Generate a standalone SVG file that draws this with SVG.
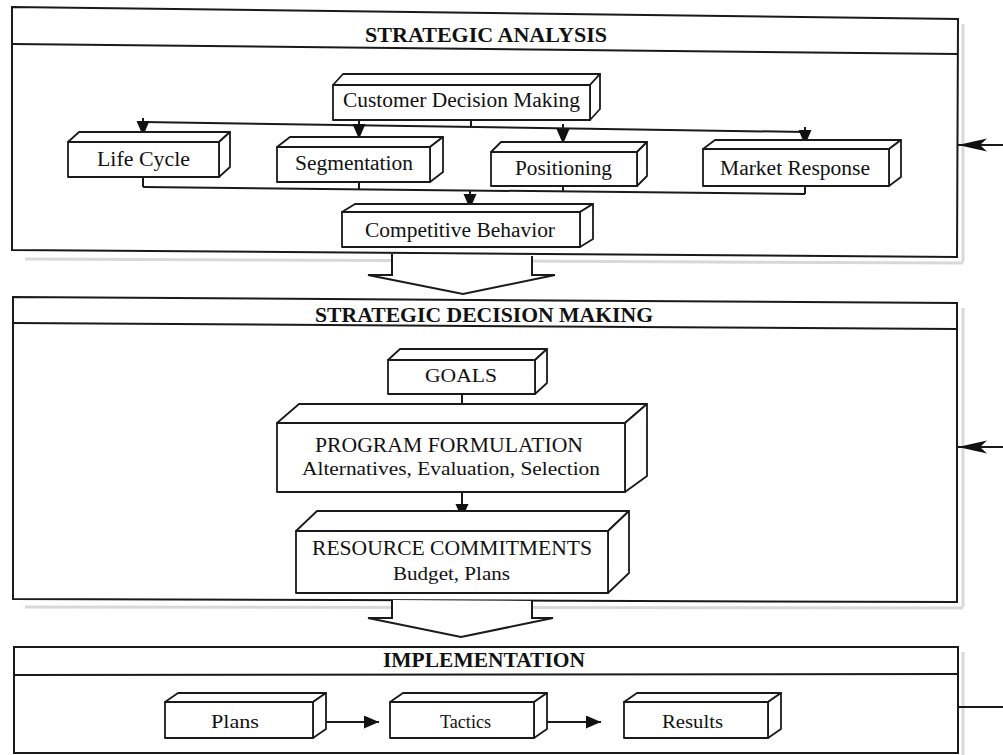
<svg xmlns="http://www.w3.org/2000/svg" width="1003" height="755" viewBox="0 0 1003 755">
<defs>
<marker id="ah" markerUnits="userSpaceOnUse" markerWidth="16" markerHeight="14" refX="15" refY="6.5" orient="auto"><path d="M0,0 L15,6.5 L0,13 z" fill="#111"/></marker>
<marker id="fb" markerUnits="userSpaceOnUse" markerWidth="30" markerHeight="14" refX="29" refY="6.5" orient="auto"><path d="M0,0 L29,6.5 L0,13 L7,6.5 z" fill="#111"/></marker>
<style>
.panel{fill:#fff;stroke:#1a1a1a;stroke-width:2}
.div{fill:none;stroke:#1a1a1a;stroke-width:2}
.shadow{fill:none;stroke:#c8c8c8;stroke-width:3;opacity:0.7}
.box rect,.box polygon{fill:#fff;stroke:#1a1a1a;stroke-width:1.8;stroke-linejoin:round}
.title{font-family:"Liberation Serif","Times New Roman",serif;font-weight:bold;font-size:20px;fill:#111}
.lbl{font-family:"Liberation Serif","Times New Roman",serif;font-size:20px;fill:#111}
.sub{font-family:"Liberation Serif","Times New Roman",serif;font-size:18px;fill:#111}
.con{fill:none;stroke:#1a1a1a;stroke-width:2}
.big{fill:#fff;stroke:#1a1a1a;stroke-width:2;stroke-linejoin:miter}
</style>
</defs>
<rect width="1003" height="755" fill="#fff"/>

<g id="shadows">
<line class="shadow" x1="963" y1="24" x2="963" y2="262"/>
<line class="shadow" x1="25" y1="259" x2="963" y2="263"/>
<line class="shadow" x1="963" y1="308" x2="963" y2="607"/>
<line class="shadow" x1="25" y1="607" x2="963" y2="608"/>
<line class="shadow" x1="963" y1="652" x2="963" y2="755"/>
</g>

<g id="panel-analysis">
<polygon class="panel" points="12,7 958,19 957,257 12,250"/>
<line class="div" x1="12" y1="44" x2="958" y2="54"/>
<text class="title" x="365" y="42" textLength="242" lengthAdjust="spacingAndGlyphs">STRATEGIC ANALYSIS</text>
</g>

<g id="panel-decision">
<polygon class="panel" points="13,297 957,303 957,602 13,599"/>
<line class="div" x1="13" y1="323" x2="957" y2="329"/>
<text class="title" x="315" y="322" textLength="338" lengthAdjust="spacingAndGlyphs">STRATEGIC DECISION MAKING</text>
</g>

<g id="panel-implementation">
<polygon class="panel" points="14,647 958,647 958,753 14,753"/>
<line class="div" x1="14" y1="675" x2="958" y2="674"/>
<text class="title" x="383" y="667" textLength="202" lengthAdjust="spacingAndGlyphs">IMPLEMENTATION</text>
</g>

<g id="flow-arrows">
<path class="big" d="M392,254 L392,275 L368,275 L463,294 L555,275 L532,275 L532,256"/>
<path class="big" d="M392,600 L392,618 L368,618 L461,637 L553,618 L532,618 L532,601"/>
</g>

<g id="connectors">
<line class="con" x1="471" y1="120" x2="471" y2="127"/>
<line class="con" x1="143" y1="122" x2="805" y2="132"/>
<line class="con" x1="143" y1="118" x2="143" y2="136" marker-end="url(#ah)"/>
<line class="con" x1="359" y1="121" x2="359" y2="139" marker-end="url(#ah)"/>
<line class="con" x1="563" y1="124" x2="563" y2="144" marker-end="url(#ah)"/>
<line class="con" x1="805" y1="127" x2="805" y2="145" marker-end="url(#ah)"/>
<line class="con" x1="143" y1="177" x2="143" y2="187"/>
<line class="con" x1="143" y1="187" x2="805" y2="194"/>
<line class="con" x1="359" y1="182" x2="359" y2="189"/>
<line class="con" x1="563" y1="186" x2="563" y2="191"/>
<line class="con" x1="805" y1="186" x2="805" y2="194"/>
<line class="con" x1="470" y1="190" x2="470" y2="209" marker-end="url(#ah)"/>
<line class="con" x1="462" y1="394" x2="462" y2="419" marker-end="url(#ah)"/>
<line class="con" x1="462" y1="492" x2="462" y2="519" marker-end="url(#ah)"/>
<line class="con" x1="320" y1="722" x2="379" y2="722" marker-end="url(#ah)"/>
<line class="con" x1="544" y1="722" x2="601" y2="722" marker-end="url(#ah)"/>
<line class="con" x1="1003" y1="145" x2="958" y2="145" marker-end="url(#fb)"/>
<line class="con" x1="1003" y1="447" x2="958" y2="447" marker-end="url(#fb)"/>
<line class="con" x1="958" y1="707" x2="1003" y2="707"/>
</g>

<g id="customer-decision-making" class="box">
<polygon points="333,85 343,74 600,74 590,85"/>
<polygon points="590,85 600,74 600,109 590,120"/>
<rect x="333" y="85" width="257" height="35"/>
<text class="lbl" x="343" y="107" textLength="237" lengthAdjust="spacingAndGlyphs">Customer Decision Making</text>
</g>

<g id="life-cycle" class="box">
<polygon points="68,142 79,132 230,132 219,142"/>
<polygon points="219,142 230,132 230,167 219,177"/>
<rect x="68" y="142" width="151" height="35"/>
<text class="lbl" x="97" y="166" textLength="93" lengthAdjust="spacingAndGlyphs">Life Cycle</text>
</g>

<g id="segmentation" class="box">
<polygon points="277,147 290,137 443,137 430,147"/>
<polygon points="430,147 443,137 443,172 430,182"/>
<rect x="277" y="147" width="153" height="35"/>
<text class="lbl" x="295" y="170" textLength="118" lengthAdjust="spacingAndGlyphs">Segmentation</text>
</g>

<g id="positioning" class="box">
<polygon points="491,152 501,142 647,142 637,152"/>
<polygon points="637,152 647,142 647,176 637,186"/>
<rect x="491" y="152" width="146" height="34"/>
<text class="lbl" x="515" y="175" textLength="97" lengthAdjust="spacingAndGlyphs">Positioning</text>
</g>

<g id="market-response" class="box">
<polygon points="703,149 715,140 901,140 889,149"/>
<polygon points="889,149 901,140 901,177 889,186"/>
<rect x="703" y="149" width="186" height="37"/>
<text class="lbl" x="720" y="175" textLength="150" lengthAdjust="spacingAndGlyphs">Market Response</text>
</g>

<g id="competitive-behavior" class="box">
<polygon points="342,212 355,204 593,204 580,212"/>
<polygon points="580,212 593,204 593,239 580,247"/>
<rect x="342" y="212" width="238" height="35"/>
<text class="lbl" x="365" y="237" textLength="190" lengthAdjust="spacingAndGlyphs">Competitive Behavior</text>
</g>

<g id="goals" class="box">
<polygon points="388,360 400,349 547,349 535,360"/>
<polygon points="535,360 547,349 547,383 535,394"/>
<rect x="388" y="360" width="147" height="34"/>
<text class="sub" x="425" y="382" textLength="72" lengthAdjust="spacingAndGlyphs">GOALS</text>
</g>

<g id="program-formulation" class="box">
<polygon points="277,423 299,404 647,404 625,423"/>
<polygon points="625,423 647,404 647,476 625,492"/>
<rect x="277" y="423" width="348" height="69"/>
<text class="lbl" x="315" y="452" textLength="268" lengthAdjust="spacingAndGlyphs">PROGRAM FORMULATION</text>
<text class="sub" x="302" y="475" textLength="298" lengthAdjust="spacingAndGlyphs">Alternatives, Evaluation, Selection</text>
</g>

<g id="resource-commitments" class="box">
<polygon points="296,531 317,511 629,511 608,531"/>
<polygon points="608,531 629,511 629,573 608,593"/>
<rect x="296" y="531" width="312" height="62"/>
<text class="lbl" x="312" y="555" textLength="280" lengthAdjust="spacingAndGlyphs">RESOURCE COMMITMENTS</text>
<text class="sub" x="393" y="580" textLength="117" lengthAdjust="spacingAndGlyphs">Budget, Plans</text>
</g>

<g id="plans" class="box">
<polygon points="165,702 178,693 326,693 313,702"/>
<polygon points="313,702 326,693 326,729 313,738"/>
<rect x="165" y="702" width="148" height="36"/>
<text class="sub" x="211" y="728" textLength="48" lengthAdjust="spacingAndGlyphs">Plans</text>
</g>

<g id="tactics" class="box">
<polygon points="390,702 403,693 547,693 534,702"/>
<polygon points="534,702 547,693 547,729 534,738"/>
<rect x="390" y="702" width="144" height="36"/>
<text class="sub" x="440" y="728" textLength="51" lengthAdjust="spacingAndGlyphs">Tactics</text>
</g>

<g id="results" class="box">
<polygon points="624,702 637,693 781,693 768,702"/>
<polygon points="768,702 781,693 781,729 768,738"/>
<rect x="624" y="702" width="144" height="36"/>
<text class="sub" x="662" y="728" textLength="61" lengthAdjust="spacingAndGlyphs">Results</text>
</g>
</svg>
